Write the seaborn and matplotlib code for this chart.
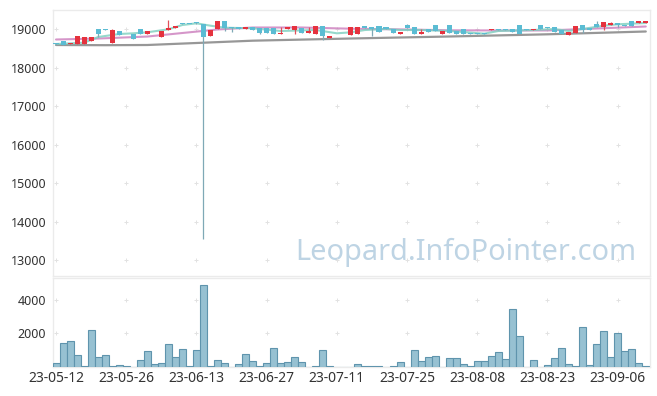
import numpy as np
import pandas as pd
import matplotlib
matplotlib.use("Agg")
import matplotlib.pyplot as plt
import seaborn as sns

# ---------------- data ----------------
holidays = ["2023-05-29", "2023-06-06", "2023-08-15"]
dates = [d for d in pd.bdate_range("2023-05-12", "2023-09-12") if d.strftime("%Y-%m-%d") not in holidays]

opens = [18640, 18700, 18620, 18618, 18620, 18700, 19000, 19000, 18650, 18960,
         18890, 18880, 19000, 18880, 18950, 18800, 18980, 19030, 19160, 19150,
         19170, 19140, 18830, 19000, 19220, 19060, 19060, 19010, 19060, 19030,
         19030, 19030, 18890, 19010, 18980, 19030, 18900, 18880, 19090, 18770,
         18860, 18890, 18850, 18880, 19090, 19060, 19090, 19060, 19010, 18880,
         19110, 19060, 18880, 19010, 19110, 18880, 19110, 18960, 19010, 18900,
         18900, 18900, 18990, 19010, 19010, 19010, 19110, 19010, 18990, 19110,
         19060, 19060, 18980, 18850, 18900, 19110, 19030, 19140, 19060, 19110,
         19160, 19110, 19220, 19170, 19170]
closes = [18620, 18600, 18640, 18826, 18800, 18800, 18880, 18990, 18980, 18850,
          18870, 18750, 18880, 18960, 18960, 18960, 19030, 19090, 19150, 19140,
          19160, 18800, 18980, 19220, 19030, 19030, 19010, 19060, 18970, 18900,
          18900, 18880, 18905, 19060, 19090, 18900, 18960, 19090, 18830, 18830,
          18840, 18870, 19060, 19060, 19030, 19010, 18930, 19010, 18900, 18930,
          19030, 18880, 18930, 18930, 18960, 18960, 18900, 18880, 18880, 18880,
          18880, 18880, 19010, 18990, 18990, 18930, 18880, 18990, 19010, 19010,
          19030, 18930, 18880, 18930, 19090, 18980, 18980, 19060, 19190, 19160,
          19110, 19090, 19090, 19220, 19220]
highs = [18650, 18700, 18650, 18830, 18800, 18810, 19000, 19000, 19010, 18960,
         18890, 18880, 19000, 18960, 18960, 18960, 19230, 19090, 19160, 19150,
         19200, 19150, 18980, 19220, 19220, 19060, 19060, 19060, 19060, 19030,
         19030, 19030, 19060, 19060, 19090, 19030, 19060, 19090, 19090, 18830,
         18860, 18890, 19060, 19060, 19090, 19060, 19090, 19060, 19010, 18930,
         19140, 19060, 19010, 19010, 19110, 18960, 19110, 18960, 19010, 18900,
         18900, 18900, 19010, 19010, 19010, 19010, 19110, 19010, 19010, 19110,
         19060, 19060, 18980, 18930, 19090, 19110, 19030, 19220, 19190, 19190,
         19160, 19110, 19220, 19220, 19220]
lows = [18600, 18590, 18610, 18610, 18610, 18700, 18800, 18985, 18650, 18850,
        18870, 18750, 18880, 18880, 18950, 18800, 18980, 19030, 19150, 19140,
        19150, 13550, 18830, 19000, 18950, 18920, 19010, 19010, 18970, 18870,
        18900, 18880, 18885, 19010, 18890, 18900, 18900, 18880, 18720, 18770,
        18840, 18870, 18850, 18880, 19030, 18830, 18930, 19010, 18900, 18880,
        19030, 18880, 18880, 18930, 18960, 18880, 18900, 18880, 18880, 18880,
        18880, 18880, 18990, 18990, 18990, 18930, 18880, 18990, 18990, 19010,
        19030, 18930, 18880, 18850, 18900, 18900, 18980, 19060, 18980, 19110,
        19060, 19090, 19090, 19170, 19170]
volumes = [255, 1405, 1545, 740, 30, 2190, 620, 740, 30, 130,
           30, 0, 435, 940, 190, 255, 1365, 620, 1100, 30,
           1040, 4880, 70, 435, 255, 0, 190, 800, 375, 70,
           255, 1160, 255, 315, 620, 315, 0, 70, 1040, 30,
           0, 0, 0, 195, 75, 30, 30, 0, 30, 315,
           0, 1040, 375, 620, 680, 0, 555, 555, 195, 75,
           375, 375, 680, 920, 500, 3465, 1830, 0, 435, 0,
           135, 555, 1160, 195, 30, 2375, 135, 1345, 2130, 620,
           2010, 980, 1100, 255, 75]

ma_short_idx = [0, 4, 6, 9, 11, 13, 16, 18, 20, 22, 24, 28, 32, 37, 40, 42, 44, 47, 49, 52,
                56, 61, 63, 68, 71, 73, 75, 78, 80, 84]
ma_short_val = [18618, 18652, 18800, 18878, 18896, 18922, 19000, 19112, 19156, 19094,
                19042, 19026, 18956, 18982, 18896, 18922, 18982, 19008, 18982, 18982,
                18956, 18886, 18956, 18982, 19008, 18956, 19008, 19094, 19130, 19164]
ma_mid_idx = [0, 6, 13, 18, 23, 28, 35, 42, 50, 56, 63, 70, 77, 84]
ma_mid_val = [18735, 18760, 18812, 18904, 18995, 19047, 19047, 19016, 18995, 18974,
              18970, 18970, 19021, 19073]
ma_long_idx = [0, 7, 13, 20, 28, 42, 56, 70, 84]
ma_long_val = [18592, 18587, 18592, 18644, 18704, 18761, 18813, 18870, 18943]

price_ticks = [13000, 14000, 15000, 16000, 17000, 18000, 19000]
volume_ticks = [2000, 4000]
date_tick_idx = list(range(0, 85, 10))
date_tick_labels = [dates[i].strftime("%y-%m-%d") for i in date_tick_idx]

# ---------------- style ----------------
sns.set_theme(style="white")
plt.rcParams["font.family"] = ["Noto Sans", "DejaVu Sans"]

UP = "#e5323e"
DOWN = "#5bbcd3"
SPINE = "#ebebeb"

W, H = 657, 396
def rect(l, t, r, b):
    return [l / W, 1 - b / H, (r - l) / W, (b - t) / H]

fig = plt.figure(figsize=(6.57, 3.96), dpi=100)
ax = fig.add_axes(rect(53, 10, 650, 276))
axv = fig.add_axes(rect(53, 278, 650, 367))

idx = np.arange(len(opens))
o = np.array(opens, float)
c = np.array(closes, float)
hi = np.array(highs, float)
lo = np.array(lows, float)
cols = [UP if cc >= oo else DOWN for oo, cc in zip(o, c)]
wick_cols = ["#e0505a" if cc >= oo else "#7fa9b6" for oo, cc in zip(o, c)]

# grid crosses
gx, gy = np.meshgrid(date_tick_idx, price_ticks)
sns.scatterplot(x=gx.ravel(), y=gy.ravel(), ax=ax, marker="+", s=12, color="#e2e2e2",
                linewidth=0.7, zorder=1, legend=False)
gx2, gy2 = np.meshgrid(date_tick_idx, volume_ticks)
sns.scatterplot(x=gx2.ravel(), y=gy2.ravel(), ax=axv, marker="+", s=12, color="#e2e2e2",
                linewidth=0.7, zorder=1, legend=False)

# watermark
ax.text(0.978, 0.088, "Leopard.InfoPointer.com", transform=ax.transAxes, ha="right", va="center",
        fontsize=20.8, color="#bed4e4", zorder=0)

# moving averages
sns.lineplot(x=ma_long_idx, y=ma_long_val, ax=ax, color="#8c8c8c", lw=1.6, alpha=0.9, zorder=2)
sns.lineplot(x=ma_mid_idx, y=ma_mid_val, ax=ax, color="#c873b8", lw=1.5, alpha=0.75, zorder=2)
sns.lineplot(x=ma_short_idx, y=ma_short_val, ax=ax, color="#7ccfbf", lw=1.5, alpha=0.8, zorder=2)

# candles
ax.vlines(idx, lo, hi, colors=wick_cols, lw=0.9, zorder=3)
body_h = np.maximum(np.abs(c - o), 18)
body_b = np.minimum(o, c)
ax.bar(idx, body_h, bottom=body_b, width=0.72, color=cols, linewidth=0, zorder=4)

# volume
axv.bar(idx, volumes, width=1.0, color="#97c1d2", edgecolor="#5f94ad", linewidth=0.8, zorder=3)

# axes formatting
ax.set_xlim(-0.43, 84.6)
axv.set_xlim(-0.43, 84.6)
ax.set_ylim(12586, 19502)
axv.set_ylim(0, 5300)

ax.set_xticks([])
ax.set_yticks(price_ticks)
ax.set_yticklabels([str(t) for t in price_ticks])
axv.set_yticks(volume_ticks)
axv.set_yticklabels([str(t) for t in volume_ticks])
axv.set_xticks(date_tick_idx)
axv.set_xticklabels(date_tick_labels)

for a in (ax, axv):
    a.set_xlabel("")
    a.set_ylabel("")
    for s in a.spines.values():
        s.set_color(SPINE)
        s.set_linewidth(1.0)
    a.tick_params(axis="y", length=0, pad=5, labelsize=9, labelcolor="#333333")
    a.tick_params(axis="x", length=0, pad=3, labelsize=10, labelcolor="#333333")
    a.grid(False)

fig.savefig("out.png", dpi=100)
